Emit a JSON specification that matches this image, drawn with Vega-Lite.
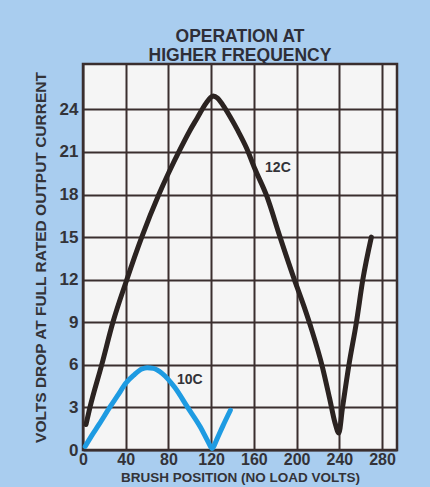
{
  "$schema": "https://vega.github.io/schema/vega-lite/v6.json",
  "autosize": "none",
  "width": 314,
  "height": 386,
  "padding": {"left": 83, "top": 64, "right": 33, "bottom": 37},
  "background": "#a9cdef",
  "title": {
    "text": ["OPERATION AT", "HIGHER FREQUENCY"],
    "font": "Liberation Sans",
    "fontSize": 17.5,
    "fontWeight": "bold",
    "color": "#2e2e38",
    "lineHeight": 19,
    "anchor": "middle",
    "offset": 0
  },
  "config": {
    "view": {"fill": "#f5f5f5", "stroke": "#3a2e2e", "strokeWidth": 2.5},
    "axis": {
      "labelFont": "Liberation Sans",
      "labelFontSize": 17,
      "labelFontWeight": "bold",
      "labelColor": "#333338",
      "labelFlush": false,
      "titleFont": "Liberation Sans",
      "titleFontSize": 15.5,
      "titleFontWeight": "bold",
      "titleColor": "#333338",
      "ticks": false,
      "domain": false,
      "grid": true,
      "gridColor": "#3a2e2e",
      "gridWidth": 2,
      "gridOpacity": 1
    }
  },
  "datasets": {
    "curves": [
      {"series": "12C", "x": 2.8, "y": 1.8},
      {"series": "12C", "x": 6.5, "y": 3},
      {"series": "12C", "x": 17.5, "y": 6},
      {"series": "12C", "x": 28, "y": 9},
      {"series": "12C", "x": 41, "y": 12},
      {"series": "12C", "x": 55, "y": 15},
      {"series": "12C", "x": 71, "y": 18},
      {"series": "12C", "x": 80, "y": 19.5},
      {"series": "12C", "x": 91, "y": 21.2},
      {"series": "12C", "x": 100, "y": 22.5},
      {"series": "12C", "x": 107, "y": 23.4},
      {"series": "12C", "x": 114, "y": 24.3},
      {"series": "12C", "x": 119, "y": 24.8},
      {"series": "12C", "x": 122, "y": 24.95},
      {"series": "12C", "x": 126, "y": 24.8},
      {"series": "12C", "x": 131, "y": 24.3},
      {"series": "12C", "x": 137.6, "y": 23.5},
      {"series": "12C", "x": 145, "y": 22.5},
      {"series": "12C", "x": 153, "y": 21.3},
      {"series": "12C", "x": 161, "y": 19.8},
      {"series": "12C", "x": 172, "y": 17.9},
      {"series": "12C", "x": 184.5, "y": 15},
      {"series": "12C", "x": 197, "y": 12.2},
      {"series": "12C", "x": 207, "y": 10.1},
      {"series": "12C", "x": 214, "y": 8.5},
      {"series": "12C", "x": 224, "y": 5.9},
      {"series": "12C", "x": 231, "y": 3.6},
      {"series": "12C", "x": 236, "y": 1.9},
      {"series": "12C", "x": 239.5, "y": 1.2},
      {"series": "12C", "x": 243, "y": 3},
      {"series": "12C", "x": 249, "y": 6},
      {"series": "12C", "x": 256, "y": 9},
      {"series": "12C", "x": 262, "y": 12},
      {"series": "12C", "x": 270, "y": 15},
      {"series": "10C", "x": 2, "y": 0.25},
      {"series": "10C", "x": 8, "y": 1},
      {"series": "10C", "x": 15, "y": 1.8},
      {"series": "10C", "x": 25, "y": 3},
      {"series": "10C", "x": 33, "y": 3.9},
      {"series": "10C", "x": 40, "y": 4.7},
      {"series": "10C", "x": 48, "y": 5.3},
      {"series": "10C", "x": 55, "y": 5.7},
      {"series": "10C", "x": 60, "y": 5.8},
      {"series": "10C", "x": 66, "y": 5.75},
      {"series": "10C", "x": 74, "y": 5.4},
      {"series": "10C", "x": 86, "y": 4.4},
      {"series": "10C", "x": 98, "y": 3},
      {"series": "10C", "x": 110, "y": 1.6},
      {"series": "10C", "x": 117, "y": 0.6},
      {"series": "10C", "x": 121, "y": 0.1},
      {"series": "10C", "x": 125, "y": 0.7},
      {"series": "10C", "x": 131, "y": 1.7},
      {"series": "10C", "x": 138, "y": 2.8}
    ],
    "labels": [
      {"series": "12C", "x": 182.5, "y": 19.9, "text": "12C"},
      {"series": "10C", "x": 100, "y": 4.9, "text": "10C"}
    ]
  },
  "layer": [
    {
      "data": {"name": "curves"},
      "mark": {"type": "line", "strokeWidth": 5, "strokeCap": "round", "interpolate": "monotone"},
      "encoding": {
        "x": {
          "field": "x", "type": "quantitative",
          "scale": {"domain": [0, 294], "nice": false, "zero": false},
          "axis": {"values": [0, 40, 80, 120, 160, 200, 240, 280], "labelPadding": 1, "labelFontSize": 16, "title": "BRUSH POSITION (NO LOAD VOLTS)", "titlePadding": 3, "titleFontSize": 13.5}
        },
        "y": {
          "field": "y", "type": "quantitative",
          "scale": {"domain": [0, 27.2], "nice": false},
          "axis": {"values": [0, 3, 6, 9, 12, 15, 18, 21, 24], "labelPadding": 5, "title": "VOLTS DROP AT FULL RATED OUTPUT CURRENT", "titlePadding": 11}
        },
        "color": {
          "field": "series", "type": "nominal",
          "scale": {"domain": ["12C", "10C"], "range": ["#2b2321", "#1e9be2"]},
          "legend": null
        },
        "detail": {"field": "series"}
      }
    },
    {
      "data": {"name": "labels"},
      "mark": {"type": "text", "font": "Liberation Sans", "fontSize": 14, "fontWeight": "bold", "color": "#333338"},
      "encoding": {
        "x": {"field": "x", "type": "quantitative"},
        "y": {"field": "y", "type": "quantitative"},
        "text": {"field": "text"}
      }
    }
  ]
}
